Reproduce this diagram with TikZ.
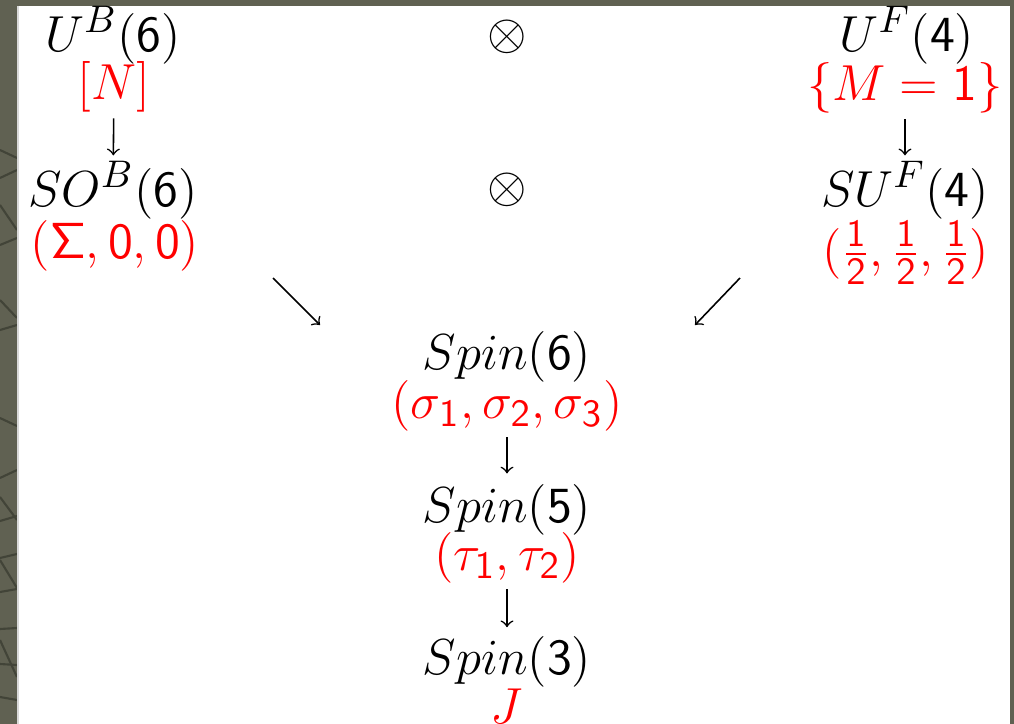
\documentclass[tikz,border=0pt]{standalone}
\usepackage{amsmath,amssymb}
\usepackage{xcolor}
\usepackage{tikz}
\usetikzlibrary{arrows,positioning}
\definecolor{slate}{RGB}{96,97,82}
\definecolor{crack}{RGB}{66,68,56}
\newcommand{\snum}[1]{\mathsf{#1}}

\begin{document}
\begin{tikzpicture}[x=0.01cm, y=-0.01cm, every node/.style={font=\fontsize{15.5}{18}\selectfont, inner sep=0pt}]
\tikzstyle{rep} = [text=red]
\tikzstyle{arrow} = [line width=0.45pt,->,>=to, shorten <=1.5pt, shorten >=1.5pt]
\tikzstyle{crackline} = [crack, line width=0.6pt]

% frame
\useasboundingbox (0,0) rectangle (1014,724);
\fill[slate] (0,0) rectangle (1014,724);
\fill[white] (18,6) rectangle (1010,724);
\draw[gray!30, line width=0.5pt] (18,6) -- (18,724);
\begin{scope}
\clip (0,6) rectangle (17,724);
\draw[crackline] (0,150) -- (17,158);
\draw[crackline] (0,178) -- (17,170);
\draw[crackline] (0,205) -- (17,230);
\draw[crackline] (0,245) -- (17,238);
\draw[crackline] (0,300) -- (17,318);
\draw[crackline] (0,330) -- (17,325);
\draw[crackline] (0,418) -- (17,426);
\draw[crackline] (0,478) -- (17,470);
\draw[crackline] (0,497) -- (17,520);
\draw[crackline] (0,521) -- (17,516);
\draw[crackline] (0,558) -- (17,554);
\draw[crackline] (0,560) -- (17,588);
\draw[crackline] (0,592) -- (17,589);
\draw[crackline] (0,629) -- (17,628);
\draw[crackline] (0,640) -- (17,677);
\draw[crackline] (0,664) -- (17,665);
\draw[crackline] (0,697) -- (17,700);
\end{scope}

% bosons
\node (ub) at (113,35) {$U^B\snum{(6)}$};
\node[rep] (n) at (114,87) {$[N]$};
\node (sob) at (113,190) {$SO^B\snum{(6)}$};
\node[rep] (sig) at (115,246) {$\snum{(\Sigma,0,0)}$};

% products
\node (produ) at (507,37) {$\otimes$};
\node (prods) at (507,190) {$\otimes$};

% fermions
\node (uf) at (907,35) {$U^F\snum{(4)}$};
\node[rep] (m) at (905,88) {$\{M=\snum{1}\}$};
\node (suf) at (905,190) {$SU^F\snum{(4)}$};
\node[rep] (half) at (906,253) {$\snum{(}\frac{\snum{1}}{\snum{2}},\frac{\snum{1}}{\snum{2}},\frac{\snum{1}}{\snum{2}}\snum{)}$};

% spin chain
\node (spin6) at (507,357) {$Spin\snum{(6)}$};
\node[rep] (sigmas) at (507,406) {$\snum{(}\sigma_{\snum{1}},\sigma_{\snum{2}},\sigma_{\snum{3}}\snum{)}$};
\node (spin5) at (507,510) {$Spin\snum{(5)}$};
\node[rep] (taus) at (507,558) {$\snum{(}\tau_{\snum{1}},\tau_{\snum{2}}\snum{)}$};
\node (spin3) at (507,662) {$Spin\snum{(3)}$};
\node[rep] (j) at (507,706) {$J$};

\coordinate (lsrc) at (273,278);
\coordinate (ldst) at (320,325);
\coordinate (rsrc) at (740,278);
\coordinate (rdst) at (695,325);

\draw[arrow] (n) -- (sob);
\draw[arrow] (m) -- (suf);
\draw[arrow, shorten <=0pt, shorten >=0pt] (lsrc) -- (ldst);
\draw[arrow, shorten <=0pt, shorten >=0pt] (rsrc) -- (rdst);
\draw[arrow, shorten >=3pt] (sigmas) -- (spin5);
\draw[arrow, shorten >=2.5pt] (taus) -- (spin3);
\end{tikzpicture}
\end{document}
